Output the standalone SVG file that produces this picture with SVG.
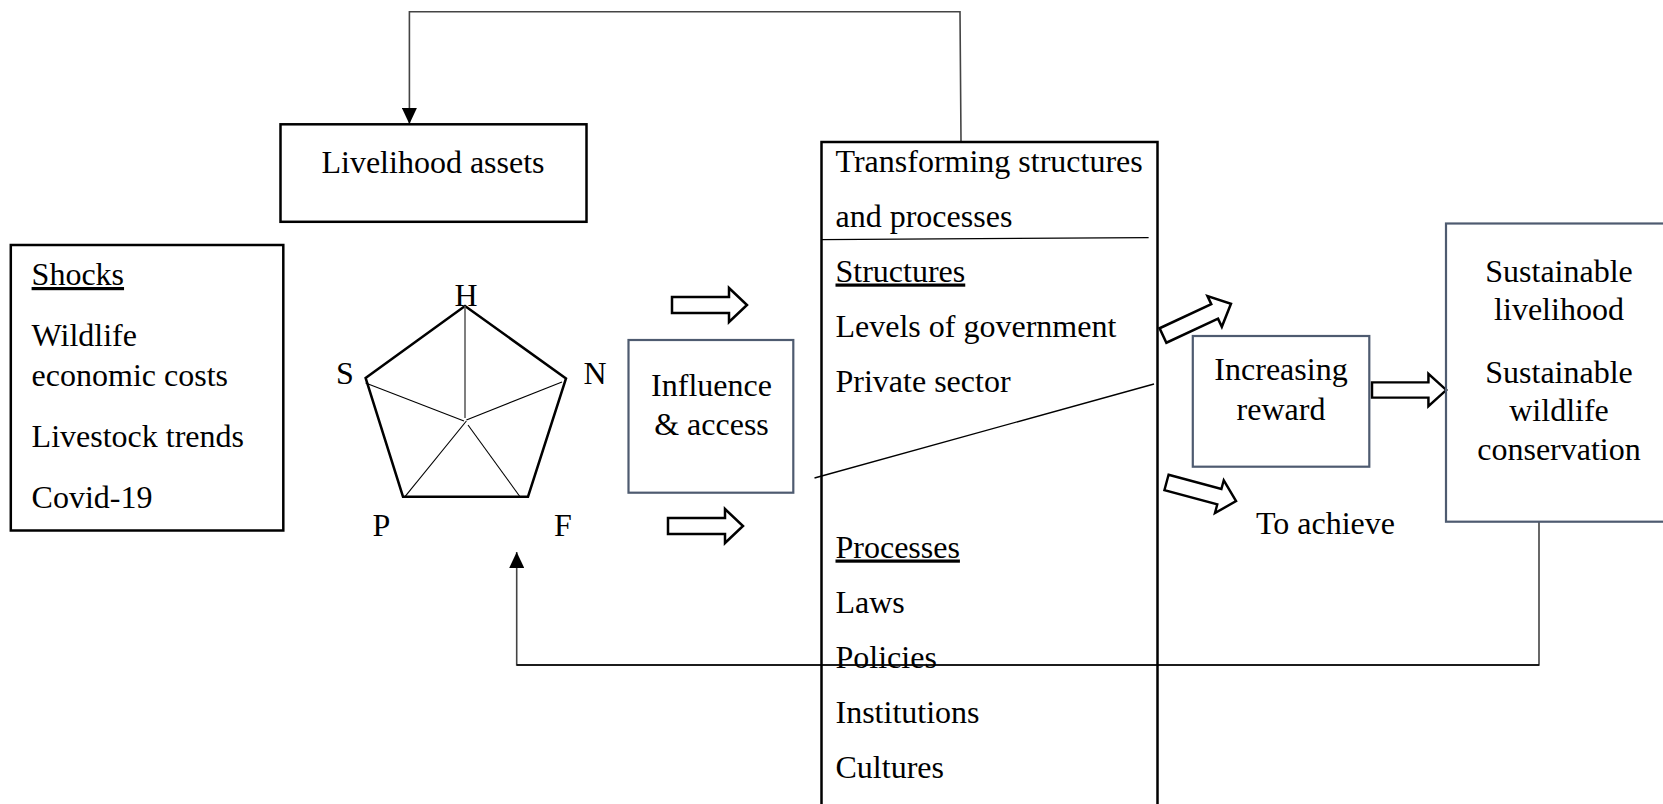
<svg xmlns="http://www.w3.org/2000/svg" width="1663" height="804" viewBox="0 0 1663 804">
<style>
text { font-family: "Liberation Serif", "Times New Roman", serif; font-size: 32px; fill: #000; }
.mid { text-anchor: middle; }
.box { fill: none; stroke: #000; stroke-width: 2.5; }
.slate { fill: none; stroke: #4e5b70; stroke-width: 2.2; }
.conn { fill: none; stroke: #444; stroke-width: 1.6; }
.thin { fill: none; stroke: #000; stroke-width: 1.3; }
.blk { fill: #fff; stroke: #000; stroke-width: 2.5; stroke-linejoin: miter; }
.u { text-decoration: underline; }
</style>
<defs>
<marker id="ah" viewBox="0 0 16 15" refX="16" refY="7.5" markerWidth="16" markerHeight="15" markerUnits="userSpaceOnUse" orient="auto">
<path d="M0,0 L16,7.5 L0,15 Z" fill="#000"/>
</marker>
<path id="blockArrow" d="M0,-8 H57 V-17 L75,0 L57,17 V8 H0 Z"/>
</defs>
<rect width="1663" height="804" fill="#fff"/>

<g id="connectors">
<polyline class="conn" points="961,141 960,11.7 409.4,11.7 409.4,124" marker-end="url(#ah)"/>
<polyline class="conn" points="1539,522 1539,665 516.7,665 516.7,552" marker-end="url(#ah)"/>
<line class="thin" x1="516.7" y1="665" x2="1539" y2="665"/>
<use href="#blockArrow" class="blk" transform="translate(672,305)"/>
<use href="#blockArrow" class="blk" transform="translate(668,526)"/>
<use href="#blockArrow" class="blk" transform="translate(1372,390) scale(0.99,0.95)"/>
<use href="#blockArrow" class="blk" transform="translate(1163,335.5) rotate(-25)"/>
<use href="#blockArrow" class="blk" transform="translate(1166.5,482.5) rotate(15) scale(0.96,1)"/>
</g>

<g id="livelihood-assets">
<rect class="box" x="280.5" y="124.3" width="306" height="97.5"/>
<text class="mid" x="433" y="173">Livelihood assets</text>
</g>

<g id="shocks">
<rect class="box" x="10.8" y="245" width="272.5" height="285.5"/>
<text class="u" x="31.6" y="285">Shocks</text>
<text x="31.6" y="346">Wildlife</text>
<text x="31.6" y="385.5">economic costs</text>
<text x="31.6" y="447">Livestock trends</text>
<text x="31.6" y="507.5">Covid-19</text>
</g>

<g id="asset-pentagon">
<polygon points="465,306 566,378.5 528,496.7 403,496.7 365.6,378" fill="none" stroke="#000" stroke-width="2.5" stroke-linejoin="miter"/>
<line x1="465" y1="306" x2="465" y2="418" stroke="#555" stroke-width="1.5"/>
<line x1="365.6" y1="383" x2="464" y2="421" stroke="#000" stroke-width="1.1"/>
<line x1="562" y1="382" x2="466.4" y2="420" stroke="#000" stroke-width="1.1"/>
<line x1="405" y1="496.7" x2="466.4" y2="421" stroke="#000" stroke-width="1.1"/>
<line x1="520" y1="496.7" x2="468" y2="425" stroke="#000" stroke-width="1.1"/>
<text class="mid" x="466" y="306">H</text>
<text class="mid" x="345" y="383.5">S</text>
<text class="mid" x="595" y="383.5">N</text>
<text class="mid" x="381.5" y="536">P</text>
<text class="mid" x="563" y="536">F</text>
</g>

<g id="influence-access">
<rect class="slate" x="628.5" y="340" width="164.8" height="152.7"/>
<text class="mid" x="711.5" y="396">Influence</text>
<text class="mid" x="711.5" y="435">&amp; access</text>
</g>

<g id="transforming-structures">
<polyline class="box" points="821.5,820 821.5,142 1157.5,142 1157.5,820"/>
<line x1="822" y1="239.7" x2="1148.6" y2="237.6" stroke="#000" stroke-width="1.3"/>
<line x1="814.5" y1="478" x2="1154" y2="384" stroke="#000" stroke-width="1.3"/>
<text x="835.5" y="171.5">Transforming structures</text>
<text x="835.5" y="226.5">and processes</text>
<text class="u" x="835.5" y="281.5">Structures</text>
<text x="835.5" y="336.5">Levels of government</text>
<text x="835.5" y="391.5">Private sector</text>
<text class="u" x="835.5" y="557.5">Processes</text>
<text x="835.5" y="612.5">Laws</text>
<text x="835.5" y="667.5">Policies</text>
<text x="835.5" y="722.5">Institutions</text>
<text x="835.5" y="777.5">Cultures</text>
</g>

<g id="increasing-reward">
<rect class="slate" x="1192.8" y="336" width="176.5" height="130.7"/>
<text class="mid" x="1281" y="380">Increasing</text>
<text class="mid" x="1281" y="420">reward</text>
</g>

<g id="to-achieve">
<text class="mid" x="1325.5" y="533.5">To achieve</text>
</g>

<g id="sustainable-outcomes">
<rect class="slate" x="1446" y="223.5" width="300" height="298.2"/>
<text class="mid" x="1559" y="281.5">Sustainable</text>
<text class="mid" x="1559" y="319.5">livelihood</text>
<text class="mid" x="1559" y="382.5">Sustainable</text>
<text class="mid" x="1559" y="420.5">wildlife</text>
<text class="mid" x="1559" y="460">conservation</text>
</g>
</svg>
